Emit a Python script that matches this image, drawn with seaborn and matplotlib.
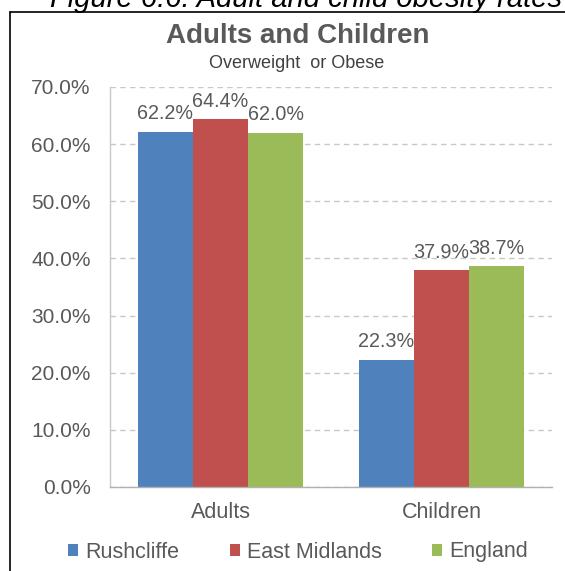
import matplotlib
matplotlib.use("Agg")
import matplotlib.pyplot as plt
from matplotlib.lines import Line2D
from matplotlib.ticker import FuncFormatter, FixedLocator
import seaborn as sns
import pandas as pd

groups = ["Adults", "Children"]
areas = ["Rushcliffe", "East Midlands", "England"]
rushcliffe = [62.2, 22.3]
east_midlands = [64.4, 37.9]
england = [62.0, 38.7]
colors = ["#4F81BD", "#C0504D", "#9BBB59"]
yticks = [0, 10, 20, 30, 40, 50, 60, 70]

rows = []
for area, vals in zip(areas, [rushcliffe, east_midlands, england]):
    for g, v in zip(groups, vals):
        rows.append({"group": g, "area": area, "value": v})
df = pd.DataFrame(rows)

sns.set_style("white")
plt.rcParams["font.family"] = ["Liberation Sans", "DejaVu Sans"]
txt = "#595959"

fig = plt.figure(figsize=(5.65, 5.71), dpi=100)
ax = fig.add_axes([110 / 565, 84 / 571, 442 / 565, 400 / 571])

sns.barplot(data=df, x="group", y="value", hue="area", order=groups,
            hue_order=areas, palette=colors, width=0.75, gap=0,
            saturation=1, linewidth=0, ax=ax)

for c in ax.containers:
    ax.bar_label(c, fmt="%.1f%%", padding=6, fontsize=14.2, color=txt)

ax.set_ylim(0, 70)
ax.set_xlim(-0.5, 1.5)
ax.set_yticks(yticks)
ax.yaxis.set_major_formatter(FuncFormatter(lambda v, p: f"{v:.1f}%"))
ax.tick_params(axis="y", length=0, pad=14, labelsize=15, labelcolor=txt)
ax.set_xticks([0, 1])
ax.set_xticklabels(groups)
ax.xaxis.set_minor_locator(FixedLocator([-0.5, 0.5, 1.5]))
ax.tick_params(axis="x", which="major", length=0, pad=11, labelsize=15.5, labelcolor=txt)
ax.tick_params(axis="x", which="minor", length=5, width=1, color="#B0B0B0")
ax.set_xlabel("")
ax.set_ylabel("")

ax.yaxis.grid(True, linestyle=(0, (4, 3)), color="#C8C8C8", linewidth=1)
ax.set_axisbelow(True)
for s in ["top", "right"]:
    ax.spines[s].set_visible(False)
ax.spines["left"].set_color("#C8C8C8")
ax.spines["bottom"].set_color("#B0B0B0")
ax.spines["left"].set_linewidth(1)
ax.spines["bottom"].set_linewidth(1)

handles, labels = ax.get_legend_handles_labels()
if ax.legend_:
    ax.legend_.remove()
fig.legend(handles, labels, loc="center", bbox_to_anchor=(298 / 565, 1 - 552 / 571),
           ncol=3, frameon=False, fontsize=15.5, handlelength=0.47, handleheight=0.47,
           handletextpad=0.33, columnspacing=2.35, labelcolor=txt,
           borderpad=0, borderaxespad=0)

fig.text(0.527, 1 - 36 / 571, "Adults and Children", ha="center", va="center",
         fontsize=20, fontweight="bold", color=txt)
fig.text(0.525, 1 - 63 / 571, "Overweight  or Obese", ha="center", va="center",
         fontsize=13, color="#404040")
fig.text(562 / 565, 1 - 7 / 571, "Figure 6.6: Adult and child obesity rates",
         ha="right", va="baseline", fontsize=21, fontstyle="italic", color="black")

fig.add_artist(Line2D([10 / 565, 1], [1 - 12 / 571, 1 - 12 / 571], color="black",
                      linewidth=1.2, transform=fig.transFigure))
fig.add_artist(Line2D([10 / 565, 10 / 565], [0, 1 - 12 / 571], color="black",
                      linewidth=1.2, transform=fig.transFigure))

fig.savefig("out.png", dpi=100)
